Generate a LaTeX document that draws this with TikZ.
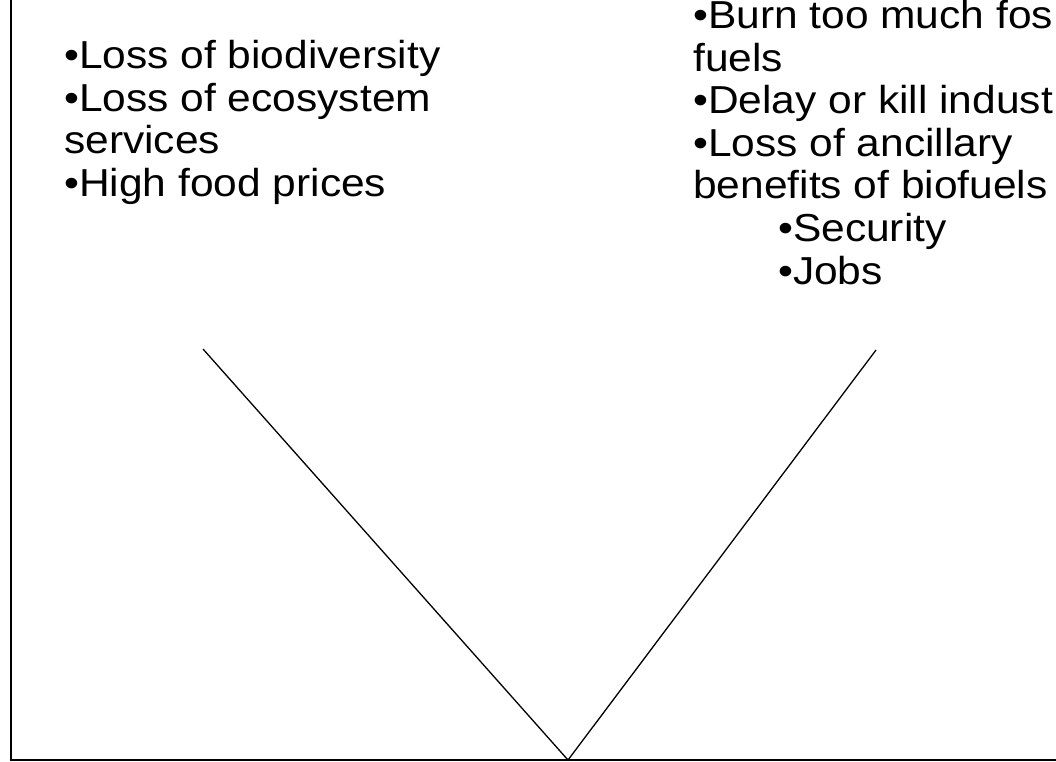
\documentclass[tikz,border=0pt]{standalone}
\usepackage{fontspec}
\setmainfont{Liberation Sans}[FakeStretch=1.09]
\usepackage{tikz}
\usetikzlibrary{positioning,calc}

\begin{document}
\begin{tikzpicture}[x=1pt, y=1pt,
  axis/.style={line width=1.4pt, black},
  vline/.style={line width=1.3pt, black},
  bullets/.style={anchor=north west, inner sep=0pt, align=left,
                  font=\fontsize{39}{42.6}\selectfont}
]
\useasboundingbox (0,0) rectangle (1056,-761);
\clip (0,0) rectangle (1056,-761);

% axes
\coordinate (top) at (11,0);
\coordinate (origin) at (11,-760);
\coordinate (xend) at (1056,-760);
\draw[axis] (top) -- (origin) -- (xend);

% the V
\coordinate (vleft) at (203,-349);
\coordinate (vtip) at (568,-760);
\coordinate (vright) at (876,-350);
\draw[vline] (vleft) -- (vtip) -- (vright);

% left list
\node[bullets] (costs) at (64,-40)
  {•Loss of biodiversity\\•Loss of ecosystem\\services\\•High food prices};

% right list, with the two sub-points indented
\node[bullets] (risks) at (693,0)
  {•Burn too much fos\\fuels\\•Delay or kill indust\\•Loss of ancillary\\benefits of biofuels\\
   \hspace*{85pt}•Security\\\hspace*{85pt}•Jobs};
\end{tikzpicture}
\end{document}
